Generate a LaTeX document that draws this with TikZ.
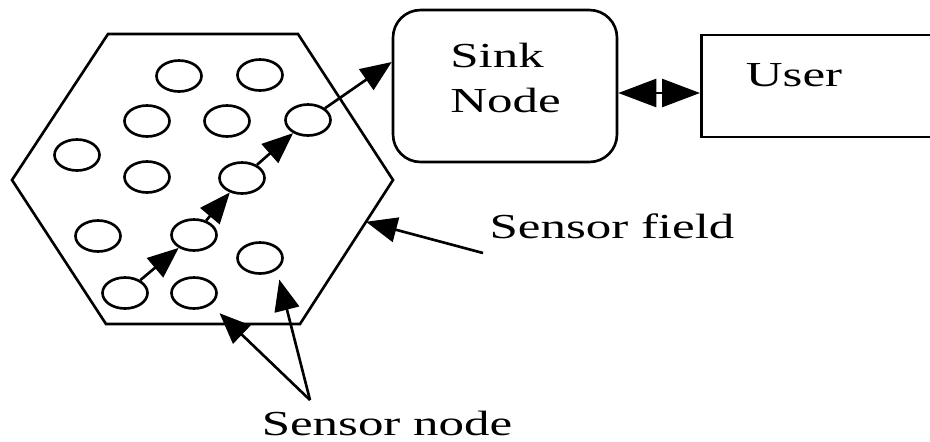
\documentclass[tikz,border=0pt]{standalone}
\usepackage{fontspec}
\newfontfamily\lblfont{Liberation Serif}[FakeStretch=1.45]
\usetikzlibrary{arrows.meta,positioning,shapes.geometric,calc}

\begin{document}
\begin{tikzpicture}[x=0.02cm,y=-0.02cm,line width=1.5pt,
    mote/.style={draw,ellipse,inner sep=0pt,minimum width=0.9cm,minimum height=0.62cm},
    hop/.style={-{Triangle[length=0.62cm,width=0.5cm]}},
    lbl/.style={font=\lblfont\fontsize{20}{25.6}\selectfont,inner sep=0pt}]
    \useasboundingbox (0,0) rectangle (930,441);

    % Sensor field
    \coordinate (hTL) at (108,34);
    \coordinate (hTR) at (298,34);
    \coordinate (hR) at (393,180);
    \coordinate (hBR) at (300,324);
    \coordinate (hBL) at (106,324);
    \coordinate (hL) at (12,180);
    \draw (hTL) -- (hTR) -- (hR) -- (hBR) -- (hBL) -- (hL) -- cycle;

    % Sensor nodes
    \foreach \n/\x/\y in {1/179/76, 2/260/75, 3/147/121, 4/227/121, 5/308/120,
                          6/77/155, 7/147/177, 8/242/178, 9/98/236, 10/194/235,
                          11/260/258, 12/125/293, 13/194/293}
        \node[mote] (m\n) at (\x,\y) {};

    % Sink and user
    \node[draw,rounded corners=0.55cm,minimum width=4.48cm,minimum height=3.04cm] (sink) at (505,86) {};
    \node[lbl,align=left,anchor=north west] (sinktxt) at (449,42) {Sink\\Node};
    \node[draw,minimum width=5.2cm,minimum height=2.04cm,anchor=west] (user) at (700,86) {};
    \node[lbl,anchor=base] (usertxt) at (794,86) {User};
    \draw[{Triangle[length=0.76cm,width=0.56cm]}-{Triangle[length=0.76cm,width=0.56cm]}]
        ([yshift=-0.14cm]sink.east) -- ([yshift=-0.14cm]user.west);

    % Multi-hop route to the sink
    \draw[hop] (m12) -- (m10);
    \draw[hop] (m10) -- (m8);
    \draw[hop] (m8) -- (m5);
    \draw[hop] (m5) -- ([yshift=0.48cm]sink.west);

    % Labels
    \node[lbl,anchor=base] (fieldlbl) at (612,238) {Sensor field};
    \coordinate (fieldtip) at ($(hR)!0.29!(hBR)$);
    \coordinate (fieldtail) at (483,253);
    \draw[hop] (fieldtail) -- (fieldtip);

    \node[lbl,anchor=base] (motelbl) at (387,435) {Sensor node};
    \coordinate (apex) at (310,400);
    \draw[hop,shorten >=0.24cm] (apex) -- (m13.south east);
    \draw[hop,shorten >=0.2cm] (apex) -- (m11.south east);
\end{tikzpicture}
\end{document}
